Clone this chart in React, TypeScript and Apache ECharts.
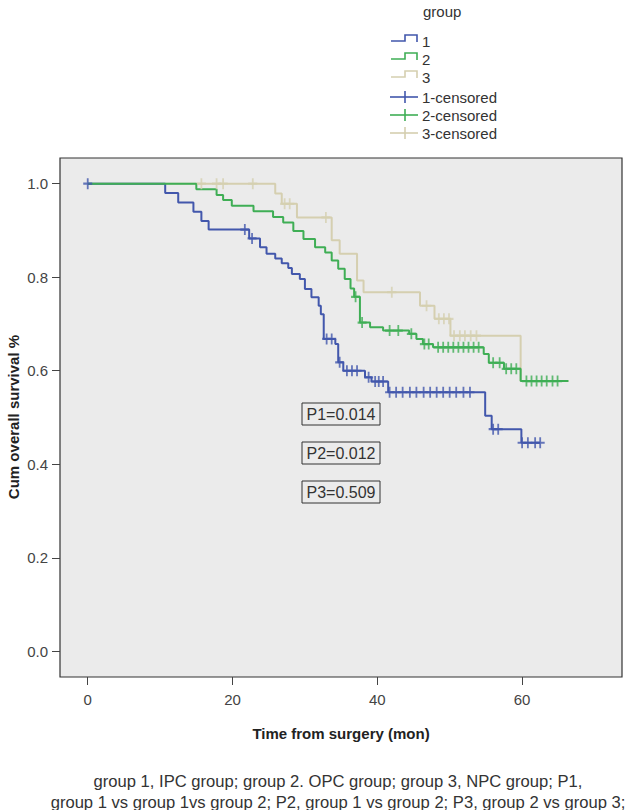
import React, { useEffect, useRef } from "react";
import * as echarts from "echarts";

// ---- data ----
const xTicks = [0, 20, 40, 60];
const yTicks = [0, 0.2, 0.4, 0.6, 0.8, 1.0];

const g1Times = [0, 10.7, 12.5, 14.6, 15.7, 16.7, 22.3, 23.8, 24.7, 25.9, 26.8, 27.7, 28.2, 29.3, 30.0, 30.9, 31.9, 32.2, 32.6, 34.2, 34.6, 35.3, 38.3, 39.2, 41.5, 54.9, 55.8, 59.9];
const g1Surv = [1.0, 0.98, 0.96, 0.94, 0.92, 0.902, 0.883, 0.864, 0.85, 0.84, 0.83, 0.82, 0.807, 0.796, 0.775, 0.757, 0.739, 0.721, 0.668, 0.657, 0.618, 0.6, 0.586, 0.577, 0.554, 0.504, 0.475, 0.446];
const g1End = 62.5;
const g1Censored = [0, 21.7, 22.7, 33.0, 33.7, 34.8, 35.8, 36.5, 37.2, 38.8, 39.7, 40.2, 40.8, 41.7, 42.6, 43.5, 44.5, 45.4, 46.4, 47.3, 48.2, 49.1, 50.0, 50.9, 51.9, 52.8, 56.0, 56.7, 60.0, 60.8, 61.8, 62.5];

const g2Times = [0, 15.0, 17.8, 18.7, 19.9, 22.9, 25.6, 27.0, 28.4, 29.8, 31.4, 32.8, 33.7, 34.6, 35.5, 36.3, 36.8, 37.6, 39.0, 40.8, 44.4, 45.4, 46.3, 47.7, 54.7, 55.4, 57.5, 59.8];
const g2Surv = [1.0, 0.988, 0.976, 0.965, 0.953, 0.941, 0.929, 0.917, 0.899, 0.882, 0.864, 0.853, 0.836, 0.818, 0.796, 0.776, 0.758, 0.703, 0.693, 0.686, 0.679, 0.668, 0.657, 0.65, 0.636, 0.617, 0.604, 0.578];
const g2End = 66.4;
const g2Censored = [37.0, 37.9, 41.7, 42.9, 44.7, 46.5, 47.1, 48.4, 49.1, 49.8, 50.5, 51.2, 51.9, 52.6, 53.3, 54.0, 56.0, 56.9, 57.8, 58.5, 59.2, 60.6, 61.3, 62.0, 62.7, 63.4, 64.2, 64.9];

const g3Times = [0, 25.9, 26.8, 28.9, 33.7, 34.8, 37.2, 38.1, 45.9, 47.9, 50.1, 59.8];
const g3Surv = [1.0, 0.979, 0.957, 0.928, 0.879, 0.85, 0.793, 0.768, 0.739, 0.711, 0.675, 0.578];
const g3End = 66.4;
const g3Censored = [15.7, 17.8, 18.7, 22.8, 27.2, 27.9, 32.9, 42.0, 46.8, 48.5, 49.2, 49.9, 50.6, 51.4, 52.1, 52.9, 53.7];

const legendLabels = ["1", "2", "3", "1-censored", "2-censored", "3-censored"];
const pLabels = ["P1=0.014", "P2=0.012", "P3=0.509"];
const captionLines = [
  "group 1, IPC group; group 2. OPC group; group 3, NPC group; P1,",
  "group 1 vs group 1vs group 2; P2, group 1 vs group 2; P3, group 2 vs group 3;",
];

// ---- styles ----
const COLORS = ["#4257ac", "#3fae55", "#d5cfb0"];
const FONT = '"Liberation Sans", Arial, sans-serif';
const CROSS = "path://M0,4h10v2H0z M4,0h2v10H4z";

function survAt(times: number[], surv: number[], t: number) {
  let s = surv[0];
  for (let i = 0; i < times.length; i++) if (times[i] <= t) s = surv[i];
  return s;
}

function stepData(times: number[], surv: number[], end: number) {
  const d = times.map((t, i) => [t, surv[i]]);
  d.push([end, surv[surv.length - 1]]);
  return d;
}

function censData(times: number[], surv: number[], cens: number[]) {
  return cens.map((t) => [t, survAt(times, surv, t)]);
}

const groups = [
  { name: "1", times: g1Times, surv: g1Surv, end: g1End, cens: g1Censored, color: COLORS[0], z: 3 },
  { name: "2", times: g2Times, surv: g2Surv, end: g2End, cens: g2Censored, color: COLORS[1], z: 4 },
  { name: "3", times: g3Times, surv: g3Surv, end: g3End, cens: g3Censored, color: COLORS[2], z: 2 },
];

function buildOption() {
  const series: any[] = [];
  groups.forEach((g) => {
    series.push({
      name: g.name,
      type: "line",
      step: "end",
      showSymbol: false,
      z: g.z,
      lineStyle: { color: g.color, width: 2 },
      data: stepData(g.times, g.surv, g.end),
    });
  });
  groups.forEach((g) => {
    series.push({
      name: g.name + "-censored",
      type: "scatter",
      symbol: CROSS,
      symbolSize: [9, 11],
      z: g.z + 5,
      itemStyle: { color: g.color },
      data: censData(g.times, g.surv, g.cens),
    });
  });

  const graphic: any[] = [];
  graphic.push({
    type: "text",
    x: 13,
    y: 417,
    rotation: Math.PI / 2,
    style: { text: "Cum overall survival %", font: `bold 15px ${FONT}`, fill: "#222", align: "center", verticalAlign: "middle" },
  });
  graphic.push({
    type: "text",
    x: 341,
    y: 733,
    style: { text: "Time from surgery (mon)", font: `bold 15px ${FONT}`, fill: "#222", align: "center", verticalAlign: "middle" },
  });
  captionLines.forEach((line, i) => {
    graphic.push({
      type: "text",
      x: 338,
      y: 781 + i * 21,
      style: { text: line, font: `16.6px ${FONT}`, fill: "#333", align: "center", verticalAlign: "middle" },
    });
  });
  pLabels.forEach((p, i) => {
    const cy = 414 + i * 39;
    graphic.push({
      type: "rect",
      shape: { x: 302, y: cy - 11, width: 78, height: 22 },
      style: { fill: "none", stroke: "#333", lineWidth: 1 },
      z: 20,
    });
    graphic.push({
      type: "text",
      x: 341,
      y: cy,
      style: { text: p, font: `16px ${FONT}`, fill: "#333", align: "center", verticalAlign: "middle" },
      z: 21,
    });
  });
  graphic.push({
    type: "text",
    x: 423,
    y: 11,
    style: { text: "group", font: `15px ${FONT}`, fill: "#333", align: "left", verticalAlign: "middle" },
  });
  const legendY = [41, 59, 77, 97, 115, 133];
  legendLabels.forEach((lab, i) => {
    const cy = legendY[i];
    const color = COLORS[i % 3];
    if (i < 3) {
      graphic.push({
        type: "polyline",
        shape: { points: [[391, cy], [405, cy], [405, cy - 6], [417, cy - 6], [417, cy + 1]] },
        style: { stroke: color, lineWidth: 1.6, fill: "none" },
      });
    } else {
      graphic.push({
        type: "line",
        shape: { x1: 390, y1: cy, x2: 418, y2: cy },
        style: { stroke: color, lineWidth: 1.6 },
      });
      graphic.push({
        type: "line",
        shape: { x1: 405, y1: cy - 6, x2: 405, y2: cy + 6 },
        style: { stroke: color, lineWidth: 1.6 },
      });
    }
    graphic.push({
      type: "text",
      x: 422,
      y: cy,
      style: { text: lab, font: `15px ${FONT}`, fill: "#333", align: "left", verticalAlign: "middle" },
    });
  });

  return {
    animation: false,
    backgroundColor: "#ffffff",
    grid: {
      left: 60,
      top: 158,
      width: 562,
      height: 519,
      show: true,
      backgroundColor: "#ebebeb",
      borderColor: "#333",
      borderWidth: 1.2,
      containLabel: false,
    },
    xAxis: {
      type: "value",
      min: -3.83,
      max: 73.8,
      axisLine: { show: false, onZero: false },
      splitLine: { show: false },
      axisTick: { show: true, inside: false, length: 8, lineStyle: { color: "#444" }, customValues: xTicks },
      axisLabel: { show: true, margin: 15, fontFamily: FONT, fontSize: 15, color: "#444", customValues: xTicks, formatter: (v: number) => String(v) },
    },
    yAxis: {
      type: "value",
      min: -0.055,
      max: 1.055,
      axisLine: { show: false, onZero: false },
      splitLine: { show: false },
      axisTick: { show: true, inside: false, length: 8, lineStyle: { color: "#444" }, customValues: yTicks },
      axisLabel: { show: true, margin: 12, fontFamily: FONT, fontSize: 15, color: "#444", customValues: yTicks, formatter: (v: number) => v.toFixed(1) },
    },
    series,
    graphic,
  };
}

export default function App() {
  const ref = useRef<HTMLDivElement>(null);
  useEffect(() => {
    const chart = echarts.init(ref.current!, null, { renderer: "svg" });
    chart.setOption(buildOption() as any);
    return () => chart.dispose();
  }, []);
  return (
    <div
      ref={ref}
      style={{ position: "absolute", left: 0, top: 0, width: 627, height: 810, background: "#fff" }}
    />
  );
}
